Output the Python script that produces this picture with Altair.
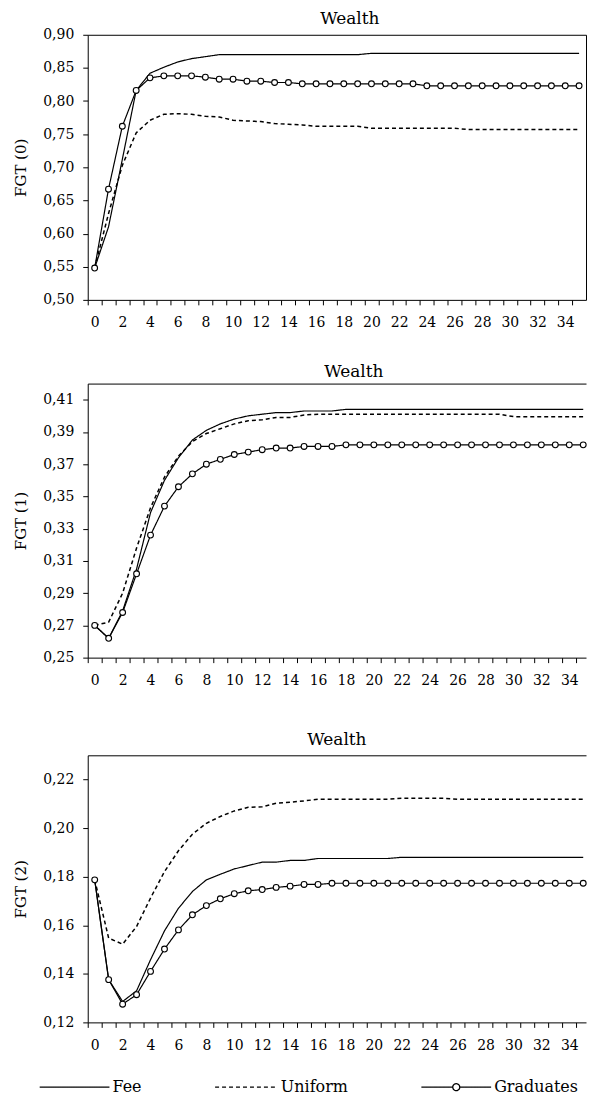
import altair as alt
import pandas as pd

steps = list(range(36))
series_names = ["Fee", "Uniform", "Graduates"]

# FGT (0)
fgt0_fee = [0.548, 0.610, 0.712, 0.816, 0.842, 0.851, 0.859, 0.864, 0.867,
            0.870, 0.870, 0.870, 0.870, 0.870, 0.870, 0.870, 0.870, 0.870, 0.870, 0.870,
            0.872, 0.872, 0.872, 0.872, 0.872, 0.872, 0.872, 0.872, 0.872, 0.872, 0.872,
            0.872, 0.872, 0.872, 0.872, 0.872]
fgt0_uniform = [0.548, 0.630, 0.703, 0.752, 0.771, 0.780, 0.781, 0.780, 0.777, 0.776,
                0.771, 0.770, 0.769, 0.766, 0.765, 0.764, 0.762, 0.762, 0.762, 0.762,
                0.759, 0.759, 0.759, 0.759, 0.759, 0.759, 0.759,
                0.757, 0.757, 0.757, 0.757, 0.757, 0.757, 0.757, 0.757, 0.757]
fgt0_graduates = [0.548, 0.667, 0.762, 0.816, 0.835, 0.838, 0.838, 0.838, 0.836, 0.833,
                  0.833, 0.830, 0.830, 0.828, 0.828,
                  0.826, 0.826, 0.826, 0.826, 0.826, 0.826, 0.826, 0.826, 0.826,
                  0.823, 0.823, 0.823, 0.823, 0.823, 0.823, 0.823, 0.823, 0.823, 0.823,
                  0.823, 0.823]

# FGT (1)
fgt1_fee = [0.270, 0.262, 0.279, 0.305, 0.340, 0.360, 0.374, 0.385, 0.391, 0.395,
            0.398, 0.400, 0.401, 0.402, 0.402, 0.403, 0.403, 0.403,
            0.404, 0.404, 0.404, 0.404, 0.404, 0.404, 0.404, 0.404, 0.404, 0.404,
            0.404, 0.404, 0.404, 0.404, 0.404, 0.404, 0.404, 0.404]
fgt1_uniform = [0.270, 0.272, 0.290, 0.318, 0.343, 0.362, 0.375, 0.384, 0.389, 0.392,
                0.395, 0.397, 0.3975, 0.399, 0.399, 0.4005,
                0.401, 0.401, 0.401, 0.401, 0.401, 0.401, 0.401, 0.401, 0.401, 0.401,
                0.401, 0.401, 0.401, 0.401,
                0.3995, 0.3995, 0.3995, 0.3995, 0.3995, 0.3995]
fgt1_graduates = [0.270, 0.262, 0.278, 0.302, 0.326, 0.344, 0.356, 0.364, 0.370, 0.373,
                  0.376, 0.3775, 0.379, 0.380, 0.380, 0.381, 0.381, 0.381,
                  0.382, 0.382, 0.382, 0.382, 0.382, 0.382, 0.382, 0.382, 0.382, 0.382,
                  0.382, 0.382, 0.382, 0.382, 0.382, 0.382, 0.382, 0.382]

# FGT (2)
fgt2_fee = [0.1787, 0.1376, 0.1286, 0.1330, 0.1458, 0.1577, 0.1670, 0.1739, 0.1787, 0.1810,
            0.1832, 0.1846, 0.1860, 0.1860, 0.1867, 0.1867,
            0.1875, 0.1875, 0.1875, 0.1875, 0.1875, 0.1875,
            0.1880, 0.1880, 0.1880, 0.1880, 0.1880, 0.1880, 0.1880, 0.1880, 0.1880, 0.1880,
            0.1880, 0.1880, 0.1880, 0.1880]
fgt2_uniform = [0.1787, 0.1547, 0.1522, 0.1595, 0.1712, 0.1821, 0.1907, 0.1975, 0.2020, 0.2048,
                0.2071, 0.2086, 0.2088, 0.2103, 0.2107, 0.2112,
                0.2119, 0.2119, 0.2119, 0.2119, 0.2119, 0.2119,
                0.2123, 0.2123, 0.2123, 0.2123,
                0.2119, 0.2119, 0.2119, 0.2119, 0.2119, 0.2119, 0.2119, 0.2119, 0.2119, 0.2119]
fgt2_graduates = [0.1787, 0.1376, 0.1275, 0.1314, 0.1410, 0.1502, 0.1581, 0.1643, 0.1681, 0.1709,
                  0.1730, 0.1742, 0.1747, 0.1756, 0.1761, 0.1768, 0.1768,
                  0.1773, 0.1773, 0.1773, 0.1773, 0.1773, 0.1773, 0.1773, 0.1773, 0.1773,
                  0.1773, 0.1773, 0.1773, 0.1773, 0.1773, 0.1773, 0.1773, 0.1773, 0.1773, 0.1773]

y0_ticks = [0.50, 0.55, 0.60, 0.65, 0.70, 0.75, 0.80, 0.85, 0.90]
y1_ticks = [0.25, 0.27, 0.29, 0.31, 0.33, 0.35, 0.37, 0.39, 0.41]
y2_ticks = [0.12, 0.14, 0.16, 0.18, 0.20, 0.22]

FONT = "DejaVu Serif"

# legend symbols: lines (and a small circle for Graduates); symbol size 196 -> unit = 7px
PATH_FEE = "M-9,0H1"
PATH_UNI = "M-8,0H1"
PATH_GRAD = ("M-9,0H-4.5M-3.5,0H1M-3.5,0A0.5,0.5,0,1,1,-4.5,0"
             "A0.5,0.5,0,1,1,-3.5,0")

DASHES = {"Fee": [1, 0], "Uniform": [4, 3], "Graduates": [1, 0]}
WIDTHS = {"Fee": 1.2, "Uniform": 1.5, "Graduates": 1.2}


def make_df(fee, uni, grad):
    rows = []
    for name, vals in zip(series_names, [fee, uni, grad]):
        for s, v in zip(steps, vals):
            rows.append({"step": s, "value": v, "series": name})
    return pd.DataFrame(rows)


def panel(df, ydomain, yvalues, ytitle, height, width, xmax, t_offset, t_dx, t_pad,
          right_border=False, with_legend=False):
    band = width / (xmax + 0.5)
    xscale = alt.Scale(domain=[-0.5, xmax], nice=False, zero=False)
    yscale = alt.Scale(domain=ydomain, nice=False, zero=False)
    x_main = alt.X(
        "step:Q", scale=xscale,
        axis=alt.Axis(values=steps, tickOffset=-band / 2, labelOffset=band / 2,
                      labelExpr="datum.value % 2 == 0 ? datum.label : ''",
                      title=None, labelFlush=False, labelOverlap=False,
                      tickSize=5, labelPadding=11, grid=False,
                      labelFont=FONT, labelFontSize=14, labelColor="black"),
    )
    y_main = alt.Y(
        "value:Q", scale=yscale,
        axis=alt.Axis(values=yvalues,
                      labelExpr="replace(format(datum.value, '.2f'), '.', ',')",
                      title=ytitle, titlePadding=t_pad, labelFlush=False,
                      labelOverlap=False, tickSize=5, labelPadding=9, grid=False,
                      labelFont=FONT, labelFontSize=14, labelColor="black",
                      titleFont=FONT, titleFontSize=15, titleFontWeight="normal",
                      titleColor="black"),
    )
    x_top = alt.X("step:Q", scale=xscale,
                  axis=alt.Axis(orient="top", ticks=False, labels=False, title=None,
                                grid=False, domain=True, minExtent=0, maxExtent=0))
    if right_border:
        y_side = alt.Y("value:Q", scale=yscale,
                       axis=alt.Axis(orient="right", ticks=False, labels=False, title=None,
                                     grid=False, domain=True, minExtent=0, maxExtent=0))
    else:
        y_side = alt.Y("value:Q", scale=yscale, axis=None)
    x_none = alt.X("step:Q", scale=xscale, axis=None)
    y_none = alt.Y("value:Q", scale=yscale, axis=None)

    layers = []
    for i, name in enumerate(series_names):
        layers.append(
            alt.Chart(df).transform_filter(alt.datum.series == name).mark_line(
                color="black", strokeWidth=WIDTHS[name], strokeDash=DASHES[name]
            ).encode(x=x_main if i == 0 else x_none, y=y_main if i == 0 else y_none)
        )
    pts = alt.Chart(df).transform_filter(alt.datum.series == "Graduates").mark_point(
        shape="circle", filled=True, fill="white", stroke="black",
        strokeWidth=1.1, size=34, opacity=1,
    ).encode(x=x_top, y=y_side)
    layers.append(pts)
    if with_legend:
        leg_df = pd.DataFrame({"series": series_names,
                               "step": [0.0, 0.0, 0.0],
                               "value": [-1.0, -1.0, -1.0]})
        leg = alt.Legend(title=None, orient="none", legendX=6.8, legendY=325,
                         direction="horizontal", symbolSize=196, symbolStrokeWidth=1.3,
                         symbolStrokeColor="black",
                         labelFont=FONT, labelFontSize=16, labelColor="black",
                         labelOffset=2, columnPadding=70)
        leg_layer = alt.Chart(leg_df).mark_point(filled=False, color="black", clip=True,
                                                 strokeWidth=1.3, opacity=1).encode(
            x=x_none,
            y=y_none,
            shape=alt.Shape("series:N",
                            scale=alt.Scale(domain=series_names,
                                            range=[PATH_FEE, PATH_UNI, PATH_GRAD]),
                            legend=leg),
            strokeDash=alt.StrokeDash("series:N",
                                      scale=alt.Scale(domain=series_names,
                                                      range=[DASHES[n] for n in series_names]),
                                      legend=leg),
        )
        layers.append(leg_layer)
    return alt.layer(*layers).resolve_axis(x="independent", y="independent").properties(
        width=width, height=height,
        title=alt.TitleParams("Wealth", offset=t_offset, dx=t_dx, font=FONT,
                              fontSize=17, fontWeight="normal", anchor="middle",
                              color="black", frame="group"),
    )


PW = 500
p0 = panel(make_df(fgt0_fee, fgt0_uniform, fgt0_graduates), [0.50, 0.90], y0_ticks,
           "FGT (0)", 266, PW, 35.5, 0, 13, 14, right_border=True)
p1 = panel(make_df(fgt1_fee, fgt1_uniform, fgt1_graduates), [0.25, 0.42], y1_ticks,
           "FGT (1)", 275, PW, 35.2, 3, 17, 14)
p2 = panel(make_df(fgt2_fee, fgt2_uniform, fgt2_graduates), [0.12, 0.23], y2_ticks,
           "FGT (2)", 268, PW, 35.2, 6, 0, 14, with_legend=True)

inner = alt.vconcat(p0, p1, spacing=33)
chart = alt.vconcat(inner, p2, spacing=44).resolve_scale(
    strokeDash="independent", shape="independent"
).resolve_legend(
    strokeDash="independent", shape="independent"
).properties(
    padding={"left": 5, "top": 0, "right": 0, "bottom": 0},
    background="white",
).configure_view(
    stroke=None
).configure_axis(
    domainColor="black", tickColor="black", labelColor="black", titleColor="black",
    labelFont=FONT, titleFont=FONT, labelFontSize=14, titleFontSize=15,
    titleFontWeight="normal", domainWidth=1, tickWidth=1,
)

chart.save("out.html", embed_options={"renderer": "svg", "actions": False})
